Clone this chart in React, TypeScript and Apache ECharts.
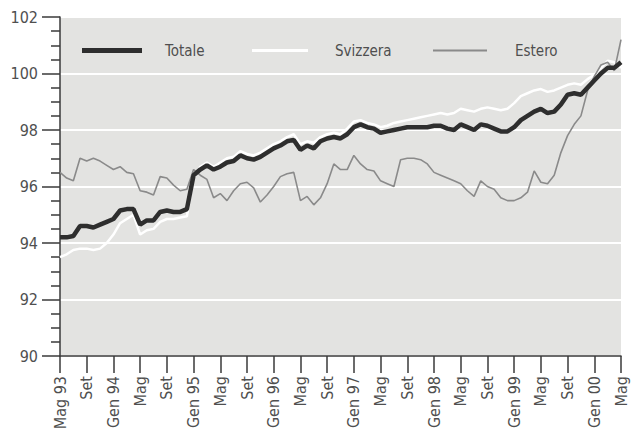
import React, { useEffect, useRef } from "react";
import * as echarts from "echarts";

const months = ["Mag", "Giu", "Lug", "Ago", "Set", "Ott", "Nov", "Dic", "Gen", "Feb", "Mar", "Apr"];
const startYear = 93;
const nMonths = 85;

const totale = [
  94.2, 94.2, 94.25, 94.6, 94.6, 94.55, 94.65, 94.75, 94.85, 95.15, 95.2, 95.2,
  94.65, 94.8, 94.8, 95.1, 95.15, 95.1, 95.1, 95.2, 96.4, 96.6, 96.75, 96.6,
  96.7, 96.85, 96.9, 97.1, 97.0, 96.95, 97.05, 97.2, 97.35, 97.45, 97.6, 97.65,
  97.3, 97.45, 97.35, 97.6, 97.7, 97.75, 97.7, 97.85, 98.1, 98.2, 98.1, 98.05,
  97.9, 97.95, 98.0, 98.05, 98.1, 98.1, 98.1, 98.1, 98.15, 98.15, 98.05, 98.0,
  98.2, 98.1, 98.0, 98.2, 98.15, 98.05, 97.95, 97.95, 98.1, 98.35, 98.5, 98.65,
  98.75, 98.6, 98.65, 98.9, 99.25, 99.3, 99.25, 99.5, 99.75, 100.0, 100.2, 100.2,
  100.4,
];

const svizzera = [
  93.5, 93.6, 93.75, 93.8, 93.8, 93.75, 93.8, 94.0, 94.3, 94.7, 94.85, 95.0,
  94.3, 94.45, 94.5, 94.75, 94.85, 94.85, 94.9, 94.95, 96.3, 96.7, 96.85, 96.7,
  96.85, 97.0, 97.05, 97.25, 97.15, 97.1, 97.2, 97.35, 97.5, 97.6, 97.75, 97.85,
  97.5, 97.6, 97.55, 97.75, 97.85, 97.9, 97.85, 98.05, 98.3, 98.35, 98.25, 98.2,
  98.1, 98.15, 98.25, 98.3, 98.35, 98.4, 98.45, 98.5, 98.55, 98.6, 98.55, 98.6,
  98.75, 98.7, 98.65, 98.75, 98.8, 98.75, 98.7, 98.75, 98.95, 99.2, 99.3, 99.4,
  99.45, 99.35, 99.4, 99.5, 99.6, 99.65, 99.6, 99.8, 99.95, 100.2, 100.45, 100.4,
  100.2,
];

const estero = [
  96.5, 96.3, 96.2, 97.0, 96.9, 97.0, 96.9, 96.75, 96.6, 96.7, 96.5, 96.45,
  95.85, 95.8, 95.7, 96.35, 96.3, 96.05, 95.85, 95.9, 96.6, 96.4, 96.25, 95.6,
  95.75, 95.5, 95.85, 96.1, 96.15, 95.95, 95.45, 95.7, 96.0, 96.35, 96.45, 96.5,
  95.5, 95.65, 95.35, 95.6, 96.1, 96.8, 96.6, 96.6, 97.1, 96.8, 96.6, 96.55,
  96.2, 96.1, 96.0, 96.95, 97.0, 97.0, 96.95, 96.8, 96.5, 96.4, 96.3, 96.2,
  96.1, 95.85, 95.65, 96.2, 96.0, 95.9, 95.6, 95.5, 95.5, 95.6, 95.8, 96.55,
  96.15, 96.1, 96.4, 97.2, 97.8, 98.2, 98.5, 99.4, 99.9, 100.3, 100.4, 100.1,
  101.2,
];

const seriesNames = ["Totale", "Svizzera", "Estero"];

// Category labels: May 93 gets "Mag 93", each January gets "Gen YY", others the month name
const categories: string[] = [];
for (let i = 0; i < nMonths; i++) {
  const m = months[i % 12];
  const monthIndex = i + 4; // 0 = Gen 93
  const yr = (startYear + Math.floor(monthIndex / 12)) % 100;
  const yy = yr < 10 ? "0" + yr : String(yr);
  if (i === 0 || m === "Gen") categories.push(m + " " + yy);
  else categories.push(m);
}

const FONT = '"Liberation Sans Narrow", "Arial Narrow", "DejaVu Sans Condensed", sans-serif';
const TXT = "#4f4f4f";
const AX = "#3a3a3a";

export default function App() {
  const ref = useRef<HTMLDivElement>(null);
  useEffect(() => {
    if (!ref.current) return;
    const chart = echarts.init(ref.current, null, { renderer: "svg" });
    const legendBase = (name: string, left: number, w: number, h: number, pad: number) => ({
      data: [name],
      left,
      top: 38,
      icon: "rect",
      itemWidth: w,
      itemHeight: h,
      selectedMode: false,
      textStyle: { fontFamily: FONT, fontSize: 15, color: TXT, padding: [0, 0, 0, pad] },
    });
    chart.setOption({
      animation: false,
      backgroundColor: "#ffffff",
      legend: [
        legendBase("Totale", 77, 60, 5, 18),
        legendBase("Svizzera", 247, 56, 3, 22),
        legendBase("Estero", 428, 54, 2, 23),
      ],
      grid: {
        left: 60,
        top: 17,
        right: 12,
        bottom: 74,
        show: true,
        backgroundColor: "#e3e3e1",
        borderWidth: 0,
        containLabel: false,
        outerBoundsMode: "none",
      },
      xAxis: {
        type: "category",
        data: categories,
        boundaryGap: false,
        axisLine: { show: true, lineStyle: { color: AX, width: 1.5 } },
        axisTick: { show: true, interval: 3, length: 17, lineStyle: { color: AX, width: 1.5 } },
        axisLabel: {
          interval: 3,
          rotate: 90,
          margin: 20,
          fontFamily: FONT,
          fontSize: 16,
          color: TXT,
        },
        splitLine: { show: false },
      },
      yAxis: {
        type: "value",
        min: 90,
        max: 102,
        interval: 2,
        axisLine: { show: true, lineStyle: { color: AX, width: 1.5 } },
        axisTick: { show: true, length: 18, lineStyle: { color: AX, width: 1.5 } },
        minorTick: { show: true, splitNumber: 4, length: 9, lineStyle: { color: AX, width: 1.5 } },
        axisLabel: { margin: 22, fontFamily: FONT, fontSize: 16, color: TXT },
        splitLine: { show: true, lineStyle: { color: "#ffffff", width: 2 } },
      },
      series: [
        {
          name: seriesNames[1],
          type: "line",
          data: svizzera,
          symbol: "none",
          color: "#ffffff",
          lineStyle: { color: "#ffffff", width: 2.5 },
          z: 2,
        },
        {
          name: seriesNames[2],
          type: "line",
          data: estero,
          symbol: "none",
          color: "#8a8a8a",
          lineStyle: { color: "#8a8a8a", width: 1.6 },
          z: 3,
        },
        {
          name: seriesNames[0],
          type: "line",
          data: totale,
          symbol: "none",
          color: "#2e2e2e",
          lineStyle: { color: "#2e2e2e", width: 4.5 },
          z: 4,
        },
      ],
    });
    return () => chart.dispose();
  }, []);
  return (
    <div
      ref={ref}
      style={{ position: "fixed", left: 0, top: 0, width: 633, height: 430 }}
    />
  );
}
